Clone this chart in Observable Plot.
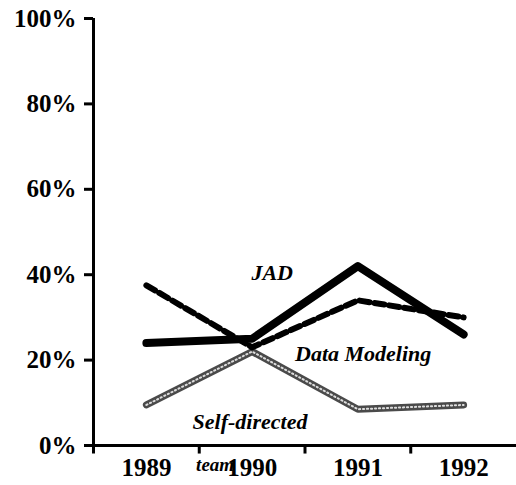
<!DOCTYPE html>
<html>
<head>
<meta charset="utf-8">
<script src="https://cdn.jsdelivr.net/npm/d3@7"></script>
<script src="https://cdn.jsdelivr.net/npm/@observablehq/plot@0.6"></script>
<style>
  html, body { margin: 0; padding: 0; background: #fff; }
  svg { display: block; }
</style>
</head>
<body>
<div id="chart"></div>
<script>
const years = [1989, 1990, 1991, 1992];
const jad = [24, 25, 42, 26];
const dataModeling = [37.5, 23, 34, 30];
const selfDirected = [9.5, 22, 8.5, 9.5];
const yTicks = [0, 20, 40, 60, 80, 100];

const rows = [];
years.forEach((yr, i) => {
  rows.push({year: yr, series: "Self-directed", value: selfDirected[i]});
  rows.push({year: yr, series: "Data Modeling", value: dataModeling[i]});
  rows.push({year: yr, series: "JAD", value: jad[i]});
});
const bounds = years.slice(0, -1).map(y => y + 0.5);
const serif = "Liberation Serif, Times New Roman, serif";

const chart = Plot.plot({
  width: 516,
  height: 485,
  marginLeft: 93,
  marginRight: 0,
  marginTop: 18,
  marginBottom: 40,
  style: {fontFamily: serif, background: "#fff", color: "#000"},
  x: {domain: [years[0] - 0.5, years[years.length - 1] + 0.5]},
  y: {domain: [0, 100]},
  marks: [
    Plot.axisY({ticks: yTicks, tickFormat: d => d + "%", tickSize: 9, tickPadding: 8,
      strokeWidth: 3, fontSize: 25, fontWeight: "bold", label: null}),
    Plot.axisX({ticks: years, tickFormat: d => String(d), tickSize: 0, tickPadding: 13,
      fontSize: 25, fontWeight: "bold", label: null}),
    Plot.ruleX([years[0] - 0.5], {y1: -2, y2: 100, strokeWidth: 3}),
    Plot.ruleY([0], {strokeWidth: 3}),
    Plot.ruleX(bounds, {y1: -2, y2: 0, strokeWidth: 3}),
    Plot.line(rows.filter(d => d.series === "Self-directed"), {x: "year", y: "value", stroke: "#4a4a4a", strokeWidth: 7}),
    Plot.line(rows.filter(d => d.series === "Self-directed"), {x: "year", y: "value", stroke: "#ddd", strokeWidth: 2, strokeDasharray: "1.2,2.8"}),
    Plot.line(rows.filter(d => d.series === "Data Modeling"), {x: "year", y: "value", stroke: "#000", strokeWidth: 6, strokeDasharray: "10,5"}),
    Plot.line(rows.filter(d => d.series === "JAD"), {x: "year", y: "value", stroke: "#000", strokeWidth: 8}),
    Plot.text(["JAD"], {x: 1990.19, y: 40.5, text: d => d, fontSize: 22, fontWeight: "bold", fontStyle: "italic"}),
    Plot.text(["Data Modeling"], {x: 1991.05, y: 21.5, text: d => d, fontSize: 22, fontWeight: "bold", fontStyle: "italic"}),
    Plot.text(["Self-directed"], {x: 1989.98, y: 5.4, text: d => d, fontSize: 22, fontWeight: "bold", fontStyle: "italic"}),
    Plot.text(["team"], {x: 1989.65, y: -4.6, text: d => d, fontSize: 19, fontWeight: "bold", fontStyle: "italic"})
  ]
});
document.getElementById("chart").appendChild(chart);
</script>
</body>
</html>
